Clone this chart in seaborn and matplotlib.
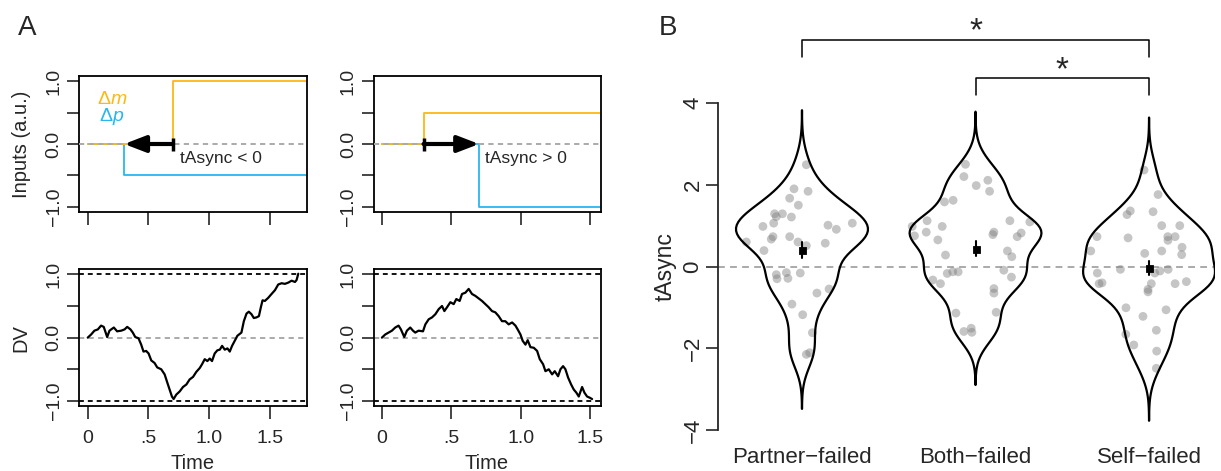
import numpy as np
import pandas as pd
import matplotlib
matplotlib.use("Agg")
import matplotlib.pyplot as plt
import seaborn as sns

# ------------------------------------------------------------------ data
# Panel A: decision-variable traces
dv1_time = [0, 0.028, 0.055, 0.083, 0.110, 0.132, 0.160, 0.179, 0.193, 0.215, 0.242, 0.275,
            0.303, 0.325, 0.352, 0.371, 0.391, 0.418, 0.440, 0.459, 0.481, 0.501, 0.523, 0.550,
            0.572, 0.605, 0.633, 0.655, 0.674, 0.693, 0.707, 0.729, 0.757, 0.784, 0.812, 0.839,
            0.867, 0.894, 0.922, 0.941, 0.963, 0.985, 1.004, 1.023, 1.045, 1.067, 1.087, 1.106,
            1.128, 1.150, 1.169, 1.188, 1.210, 1.232, 1.265, 1.285, 1.307, 1.326, 1.348, 1.367,
            1.389, 1.409, 1.425, 1.439, 1.458, 1.486, 1.513, 1.541, 1.568, 1.596, 1.623, 1.651,
            1.678, 1.706, 1.719, 1.733]
dv1_value = [0, 0.05, 0.11, 0.13, 0.19, 0.17, 0.01, 0.11, 0.13, 0.16, 0.10, 0.11,
             0.13, 0.17, 0.13, 0.08, 0.01, -0.01, -0.11, -0.22, -0.21, -0.25, -0.36, -0.40,
             -0.47, -0.50, -0.58, -0.71, -0.82, -0.93, -0.97, -0.90, -0.85, -0.78, -0.74, -0.66,
             -0.62, -0.54, -0.48, -0.42, -0.34, -0.37, -0.33, -0.37, -0.25, -0.20, -0.19, -0.13,
             -0.19, -0.17, -0.22, -0.13, -0.05, 0.03, 0.08, 0.26, 0.38, 0.41, 0.37, 0.31,
             0.32, 0.34, 0.48, 0.59, 0.58, 0.63, 0.69, 0.75, 0.84, 0.86, 0.85, 0.87,
             0.90, 0.88, 0.91, 1.01]
dv2_time = [0, 0.024, 0.048, 0.072, 0.096, 0.120, 0.137, 0.161, 0.180, 0.204, 0.224, 0.240,
            0.264, 0.296, 0.313, 0.337, 0.361, 0.385, 0.409, 0.433, 0.450, 0.469, 0.493, 0.517,
            0.536, 0.560, 0.577, 0.601, 0.625, 0.649, 0.673, 0.697, 0.721, 0.745, 0.769, 0.793,
            0.817, 0.841, 0.865, 0.889, 0.913, 0.938, 0.962, 0.978, 0.998, 1.014, 1.034, 1.050,
            1.070, 1.094, 1.118, 1.137, 1.161, 1.178, 1.202, 1.226, 1.245, 1.269, 1.286, 1.305,
            1.322, 1.341, 1.363, 1.382, 1.401, 1.418, 1.442, 1.459, 1.478, 1.498, 1.514]
dv2_value = [0, 0.05, 0.08, 0.11, 0.16, 0.19, 0.13, 0.01, 0.11, 0.16, 0.11, 0.08,
             0.11, 0.10, 0.21, 0.29, 0.32, 0.37, 0.45, 0.50, 0.42, 0.48, 0.56, 0.53,
             0.61, 0.58, 0.69, 0.71, 0.77, 0.69, 0.66, 0.62, 0.58, 0.53, 0.48, 0.42,
             0.40, 0.34, 0.26, 0.26, 0.21, 0.24, 0.19, 0.13, 0.05, -0.05, -0.11, -0.04,
             -0.15, -0.16, -0.21, -0.34, -0.42, -0.53, -0.50, -0.58, -0.53, -0.61, -0.50, -0.45,
             -0.50, -0.63, -0.74, -0.82, -0.87, -0.93, -0.78, -0.87, -0.93, -0.95, -0.97]

# Panel A: step inputs (onset time, level after onset)
m1_onset, m1_level = 0.70, 1.0
p1_onset, p1_level = 0.30, -0.5
m2_onset, m2_level = 0.30, 0.5
p2_onset, p2_level = 0.70, -1.0
dv_bounds = [-1.0, 1.0]

# Panel B: tAsync per condition (values and horizontal spread)
groups = ["Partner\u2212failed", "Both\u2212failed", "Self\u2212failed"]
partner_vals = [2.49, 1.90, 1.84, 1.67, 1.50, 1.29, 1.29, 1.22, 1.21, 0.98, 1.06, 1.01, 0.91,
                1.06, 0.60, 0.73, 0.67, 0.73, 0.60, 0.51, 0.57, 0.39, -0.20, -0.30, -0.15,
                -0.29, -0.16, -0.65, -0.55, -0.92, -1.18, -1.62, -2.11, -2.15]
partner_jit = [0.025, -0.046, 0.035, -0.071, -0.021, -0.158, -0.113, -0.148, -0.061, -0.225,
               -0.163, 0.150, 0.198, 0.290, -0.321, -0.167, -0.177, -0.071, -0.023, 0.025,
               0.134, -0.219, -0.148, -0.144, -0.090, -0.081, -0.010, 0.086, 0.156, -0.058,
               0.004, 0.060, 0.044, 0.025]
both_vals = [2.50, 2.20, 1.98, 2.11, 1.84, 1.58, 1.62, 1.12, 0.98, 0.98, 0.75, 0.84, 0.65,
             1.12, 1.09, 0.84, 0.78, 0.73, 0.82, 0.28, 0.38, 0.24, -0.17, -0.13, -0.13,
             -0.33, -0.42, -0.09, -0.26, -0.54, -0.65, -1.14, -1.12, -1.59, -1.51, -1.61]
both_jit = [-0.058, -0.067, 0.004, 0.071, 0.081, -0.179, -0.129, -0.279, -0.192, -0.365,
            -0.352, -0.284, -0.217, 0.198, 0.313, 0.106, 0.100, 0.240, 0.263, -0.173,
            0.184, 0.209, -0.163, -0.131, -0.100, -0.246, -0.202, 0.163, 0.207, 0.106,
            0.106, -0.113, 0.119, -0.067, -0.025, -0.021]
self_vals = [2.36, 1.76, 1.36, 1.27, 1.34, 1.00, 1.00, 0.73, 0.70, 0.73, 0.64, 0.73, 0.47,
             0.29, 0.38, 0.32, 0.38, -0.07, -0.16, -0.16, -0.11, -0.07, -0.42, -0.40, -0.42,
             -0.56, -0.62, -0.42, -0.37, -1.01, -1.22, -1.06, -1.66, -1.92, -1.56, -2.07, -2.49]
self_jit = [-0.029, 0.052, -0.108, -0.127, 0.023, 0.073, 0.177, -0.300, -0.121, 0.108,
            0.109, 0.150, 0.190, 0.188, -0.336, -0.025, 0.073, -0.165, -0.298, 0.033,
            0.063, 0.110, -0.288, -0.271, 0.013, -0.006, -0.006, 0.150, 0.215, -0.133,
            -0.035, 0.098, -0.134, -0.088, 0.042, 0.044, 0.042]
comparisons = [(0, 2, "*"), (1, 2, "*")]

# ------------------------------------------------------------------ style
sns.set_style("ticks")
plt.rcParams["font.family"] = ["Liberation Sans", "DejaVu Sans"]
plt.rcParams["mathtext.fontset"] = "custom"
plt.rcParams["mathtext.rm"] = "Liberation Sans"
plt.rcParams["mathtext.it"] = "Liberation Sans:italic"
plt.rcParams["axes.linewidth"] = 1.3

ORANGE = "#FDB913"
BLUE = "#29B6F0"
GREY = "#AAAAAA"

fig = plt.figure(figsize=(12.21, 4.71), dpi=100)
W, H = 1221, 471


def px_axes(l, t, r, b):
    return fig.add_axes([l / W, 1 - b / H, (r - l) / W, (b - t) / H])


def r_lim(vals):
    lo, hi = min(vals), max(vals)
    d = 0.04 * (hi - lo)
    return lo - d, hi + d


def style_a(ax, t, xlabels):
    ax.set_xlim(*r_lim(t))
    ax.set_ylim(-1.08, 1.08)
    ax.set_yticks([-1, -0.5, 0, 0.5, 1])
    ax.set_yticklabels(["\u22121.0", "", "0.0", "", "1.0"], rotation=90, va="center")
    ax.set_xticks([0, 0.5, 1.0, 1.5])
    ax.set_xticklabels(["0", ".5", "1.0", "1.5"] if xlabels else [])
    ax.tick_params(axis="both", direction="out", length=9, width=1.2, labelsize=14)
    ax.tick_params(axis="y", pad=3)
    ax.tick_params(axis="x", pad=8)
    for s in ax.spines.values():
        s.set_visible(True)
        s.set_linewidth(1.3)
        s.set_color("black")


def inputs_panel(ax, t, m_on, m_lev, p_on, p_lev, text, txt_x):
    end = 2.0
    sns.lineplot(x=[0, p_on, end], y=[0, p_lev, p_lev], drawstyle="steps-post",
                 color=BLUE, lw=1.3, ax=ax, estimator=None)
    sns.lineplot(x=[0, m_on, end], y=[0, m_lev, m_lev], drawstyle="steps-post",
                 color=ORANGE, lw=1.3, ax=ax, estimator=None)
    ax.axhline(0, color=GREY, lw=1.4, ls=(0, (2.7, 2.2)), zorder=3)
    ax.annotate("", xy=(p_on, 0), xytext=(m_on, 0), zorder=5,
                arrowprops=dict(arrowstyle="-|>,head_length=1.3,head_width=0.5",
                                lw=3, color="black", shrinkA=0, shrinkB=0))
    ax.plot([m_on, m_on], [-0.11, 0.10], color="black", lw=2.5, zorder=5,
            solid_capstyle="butt")
    ax.text(txt_x, -0.23, text, fontsize=12.5, ha="left", va="center")
    style_a(ax, t, False)


# ---- Panel A top-left
ax1 = px_axes(79.3, 76, 306.7, 212)
inputs_panel(ax1, dv1_time, m1_onset, m1_level, p1_onset, p1_level, "tAsync < 0", 0.76)
ax1.text(0.2, 0.63, r"$\Delta m$", color=ORANGE, fontsize=14, ha="center", va="baseline")
ax1.text(0.2, 0.36, r"$\Delta p$", color=BLUE, fontsize=14, ha="center", va="baseline")
ax1.set_ylabel("Inputs (a.u.)", fontsize=14.5)
ax1.yaxis.set_label_coords(-0.252, 0.5)
ax1.yaxis.label.set_va("center")

# ---- Panel A top-right
ax2 = px_axes(373.5, 76, 600.5, 212)
inputs_panel(ax2, dv2_time, m2_onset, m2_level, p2_onset, p2_level, "tAsync > 0", 0.74)


def dv_panel(ax, t, v):
    for b in dv_bounds:
        ax.axhline(b, color="black", lw=1.3, ls=(0, (2.7, 2.2)))
    ax.axhline(0, color=GREY, lw=1.4, ls=(0, (2.7, 2.2)))
    sns.lineplot(x=t, y=v, color="black", lw=1.6, ax=ax, estimator=None, sort=False)
    style_a(ax, t, True)
    ax.set_xlabel("Time", fontsize=14.5)
    ax.xaxis.set_label_coords(0.5, -0.42)
    ax.xaxis.label.set_va("center")


# ---- Panel A bottom
ax3 = px_axes(79.3, 269.3, 306.7, 406)
dv_panel(ax3, dv1_time, dv1_value)
ax3.set_ylabel("DV", fontsize=14.5)
ax3.yaxis.set_label_coords(-0.257, 0.5)
ax3.yaxis.label.set_va("center")

ax4 = px_axes(373.5, 269.3, 600.5, 406)
dv_panel(ax4, dv2_time, dv2_value)
ax4.set_ylabel("")

# ---- Panel B
df = pd.DataFrame({
    "group": [groups[0]] * len(partner_vals) + [groups[1]] * len(both_vals) + [groups[2]] * len(self_vals),
    "value": partner_vals + both_vals + self_vals,
    "jit": partner_jit + both_jit + self_jit,
})
df["pos"] = df["group"].map({g: i for i, g in enumerate(groups)}) + df["jit"]

axb = px_axes(718, 103, 1215, 430)
axb.axhline(0, color=GREY, lw=1.4, ls=(0, (3.5, 2.7)), zorder=0)
sns.scatterplot(x=df["pos"], y=df["value"], color="#808080", alpha=0.45, s=40,
                edgecolor="none", ax=axb, zorder=1)
sns.violinplot(data=df, x="group", y="value", order=groups, fill=False, color="black",
               linewidth=1.6, inner=None, density_norm="width", width=0.76,
               bw_adjust=0.75, cut=3.2, ax=axb, zorder=2)
sns.pointplot(data=df, x="group", y="value", order=groups, errorbar="se", color="black",
              linestyle="none", marker="s", markersize=3.6, err_kws={"linewidth": 1.5},
              ax=axb, zorder=4)

axb.set_xlim(-0.484, 2.380)
axb.set_ylim(-4, 4)
axb.set_yticks([-4, -2, 0, 2, 4])
axb.set_yticklabels(["\u22124", "\u22122", "0", "2", "4"], rotation=90, va="center")
axb.set_xticks([0, 1, 2])
axb.set_xticklabels(groups)
axb.tick_params(axis="y", direction="out", length=8.5, width=1.2, labelsize=16, pad=2)
axb.tick_params(axis="x", length=0, labelsize=16, pad=12)
for side in ["top", "right", "bottom"]:
    axb.spines[side].set_visible(False)
axb.spines["left"].set_bounds(-4, 4)
axb.spines["left"].set_linewidth(1.3)
axb.set_xlabel("")
axb.set_ylabel("tAsync", fontsize=16.5)
axb.yaxis.set_label_coords(-0.107, 0.5)
axb.yaxis.label.set_va("center")

# significance brackets
bracket_y = [5.54, 4.61]
leg = 0.42
star_y = [5.74, 4.80]
for (a, b, s), y, sy in zip(comparisons, bracket_y, star_y):
    axb.plot([a, a, b, b], [y - leg, y, y, y - leg], color="black", lw=1.1, clip_on=False)
    axb.text((a + b) / 2, sy, s, ha="center", va="center", fontsize=24, clip_on=False)

# panel letters
fig.text(27.5 / W, 1 - 28 / H, "A", fontsize=20, ha="center", va="center")
fig.text(668 / W, 1 - 28 / H, "B", fontsize=20, ha="center", va="center")

fig.savefig("out.png", dpi=100)
